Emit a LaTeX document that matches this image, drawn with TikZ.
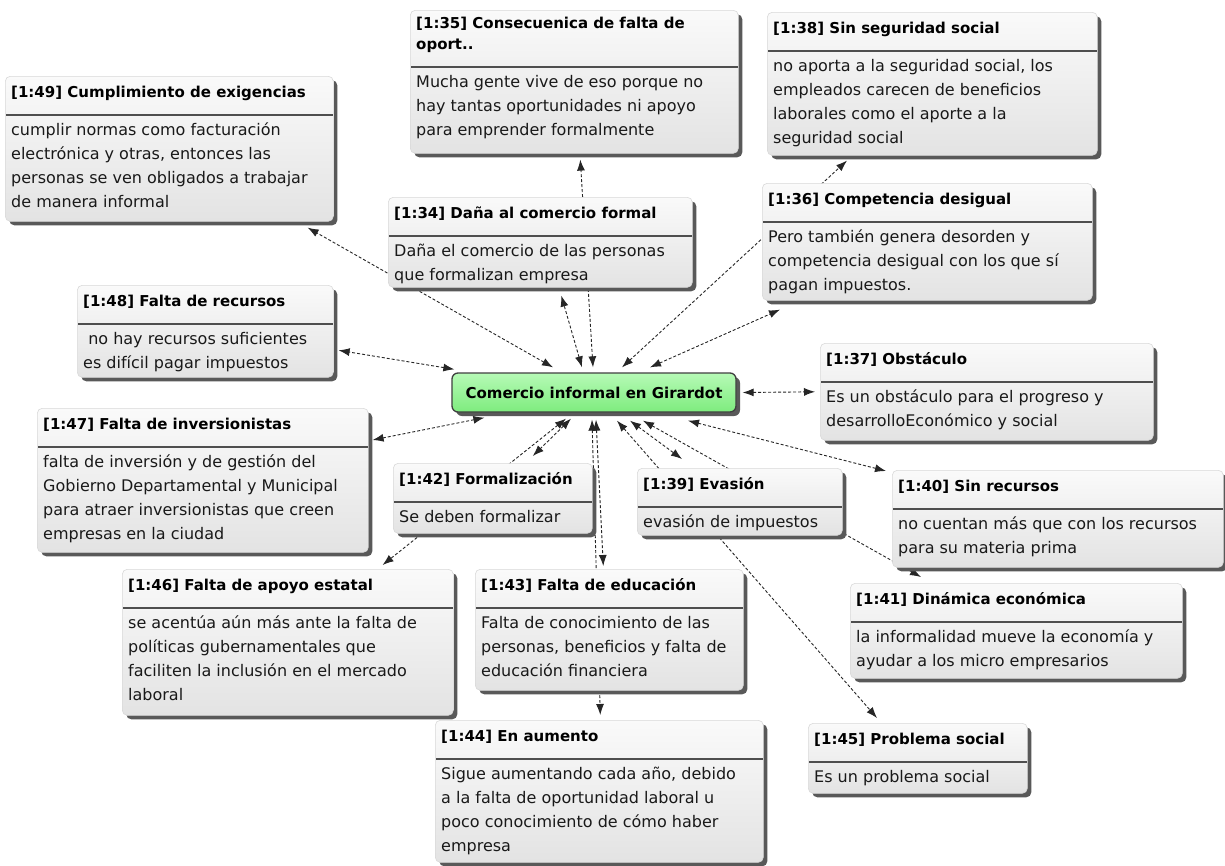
\documentclass[tikz,border=0pt]{standalone}
\usepackage{fontspec}
\setmainfont{DejaVu Sans}
\usepackage{tikz}
\usetikzlibrary{calc,arrows.meta,shadows,backgrounds}

\definecolor{hubtop}{RGB}{182,250,182}
\definecolor{hubbottom}{RGB}{126,236,126}
\definecolor{rulegray}{RGB}{78,78,78}

\tikzset{
  card/.style={rounded corners=5pt, draw=black!15, line width=0.6pt,
    top color=black!2, bottom color=black!11, inner sep=0pt,
    drop shadow={shadow xshift=4pt, shadow yshift=-4pt, fill=black!65, opacity=1}},
  cardtitle/.style={inner sep=0pt, align=left, font=\bfseries\fontsize{15}{21}\selectfont},
  cardtext/.style={inner sep=0pt, align=left, text=black!90, font=\fontsize{16}{24}\selectfont},
  cardrule/.style={rulegray, line width=2pt},
  hub/.style={rounded corners=6pt, draw=black!75, line width=1.3pt,
    top color=hubtop, bottom color=hubbottom, inner sep=0pt,
    minimum width=284, minimum height=39, font=\bfseries\fontsize{15}{18}\selectfont,
    drop shadow={shadow xshift=4pt, shadow yshift=-4pt, fill=black!65, opacity=1}},
  link/.style={<->, dash pattern=on 3pt off 2pt, line width=0.9pt, black!85}
}

% name, left, top, width, height, title, text
\newcommand{\infocard}[7]{%
  \node[card, minimum width=#4, minimum height=#5, anchor=north west] (#1) at (#2,#3) {};
  \node[cardtitle, anchor=north west] (#1t) at ($(#1.north west)+(6,7)$) {#6\strut};
  \draw[cardrule] ($(#1t.south -| #1.west)+(1,11)$) -- ($(#1t.south -| #1.east)+(-1,11)$);
  \node[cardtext, anchor=north west] (#1b) at ($(#1t.south -| #1.west)+(6,14)$) {\strut #7};
}

\begin{document}
\begin{tikzpicture}[x=1pt, y=-1pt, >={Latex[length=11pt, width=8pt]}]
  \useasboundingbox (0,0) rectangle (1225,865);

  % central code
  \node[hub] (hub) at (594,392.5) {Comercio informal en Girardot\hspace{14pt}};

  % quotations, upper half
  \infocard{n49}{5}{76}{328}{145}{[1:49] Cumplimiento de exigencias}
    {cumplir normas como facturación\\electrónica y otras, entonces las\\personas se ven obligados a trabajar\\de manera informal}
  \infocard{n35}{410}{10}{328}{143}{[1:35] Consecuenica de falta de\\oport..}
    {Mucha gente vive de eso porque no\\hay tantas oportunidades ni apoyo\\para emprender formalmente}
  \infocard{n34}{388}{197}{304}{90}{[1:34] Daña al comercio formal}
    {Daña el comercio de las personas\\que formalizan empresa}
  \infocard{n38}{767}{12}{330}{143}{[1:38] Sin seguridad social}
    {no aporta a la seguridad social, los\\empleados carecen de beneficios\\laborales como el aporte a la\\seguridad social}
  \infocard{n36}{762}{183}{330}{117}{[1:36] Competencia desigual}
    {Pero también genera desorden y\\competencia desigual con los que sí\\pagan impuestos.}
  \infocard{n48}{77}{285}{256}{92}{[1:48] Falta de recursos}
    {~no hay recursos suficientes\\es difícil pagar impuestos}
  \infocard{n37}{820}{343}{333}{97}{[1:37] Obstáculo}
    {Es un obstáculo para el progreso y\\desarrolloEconómico y social}

  % quotations, lower half
  \infocard{n47}{37}{408}{331}{144}{[1:47] Falta de inversionistas}
    {falta de inversión y de gestión del\\Gobierno Departamental y Municipal\\para atraer inversionistas que creen\\empresas en la ciudad}
  \infocard{n42}{393}{463}{199}{70}{[1:42] Formalización}
    {Se deben formalizar}
  \infocard{n39}{637}{468}{205}{67}{[1:39] Evasión}
    {evasión de impuestos}
  \infocard{n40}{892}{470}{331}{97}{[1:40] Sin recursos}
    {no cuentan más que con los recursos\\para su materia prima}
  \infocard{n46}{122}{569}{331}{146}{[1:46] Falta de apoyo estatal}
    {se acentúa aún más ante la falta de\\políticas gubernamentales que\\faciliten la inclusión en el mercado\\laboral}
  \infocard{n43}{475}{569}{268}{121}{[1:43] Falta de educación}
    {Falta de conocimiento de las\\personas, beneficios y falta de\\educación financiera}
  \infocard{n41}{850}{583}{332}{95}{[1:41] Dinámica económica}
    {la informalidad mueve la economía y\\ayudar a los micro empresarios}
  \infocard{n44}{435}{720}{328}{142}{[1:44] En aumento}
    {Sigue aumentando cada año, debido\\a la falta de oportunidad laboral u\\poco conocimiento de cómo haber\\empresa}
  \infocard{n45}{808}{723}{219}{70}{[1:45] Problema social}
    {Es un problema social}

  % links go behind the cards
  \begin{pgfonlayer}{background}
    \fill[white] (0,0) rectangle (1225,865);
    \draw[link] ($(hub.north)+(-41,-5)$) -- ($(n49.south east)+(-26,6)$);
    \draw[link] ($(hub.north)+(-1,-5)$) -- ($(n35.south)+(6,6)$);
    \draw[link] ($(hub.north)+(-12,-5)$) -- ($(n34.south)+(21,8)$);
    \draw[link] ($(hub.north)+(28,-5)$) -- ($(n38.south west)+(80,5)$);
    \draw[link] ($(hub.north)+(56,-5)$) -- ($(n36.south west)+(18,9)$);
    \draw[link] ($(hub.east)+(6,0)$) -- ($(n37.west)+(-5,0)$);
    \draw[link] ($(hub.north west)+(3,-3)$) -- ($(n48.east)+(5,19)$);
    \draw[link] ($(hub.south west)+(33,5)$) -- ($(n47.north east)+(4,32)$);
    \draw[link] ($(hub.south)+(-23,6)$) -- ($(n42.north)+(40,-7)$);
    \draw[link] ($(hub.south)+(-28,6)$) -- ($(n46.north east)+(-71,-4)$);
    \draw[link] ($(hub.south)+(2,7)$) -- ($(n43.north)+(-6,-3)$);
    \draw[link] ($(hub.south)+(-2,7)$) -- ($(n44.north)+(1,-5)$);
    \draw[link] ($(hub.south)+(23,8)$) -- ($(n45.north west)+(69,-5)$);
    \draw[link] ($(hub.south)+(36,8)$) -- ($(n39.north west)+(45,-9)$);
    \draw[link] ($(hub.south)+(49,8)$) -- ($(n41.north west)+(71,-6)$);
    \draw[link] ($(hub.south)+(94,8)$) -- ($(n40.north west)+(-6,1)$);
  \end{pgfonlayer}
\end{tikzpicture}
\end{document}
